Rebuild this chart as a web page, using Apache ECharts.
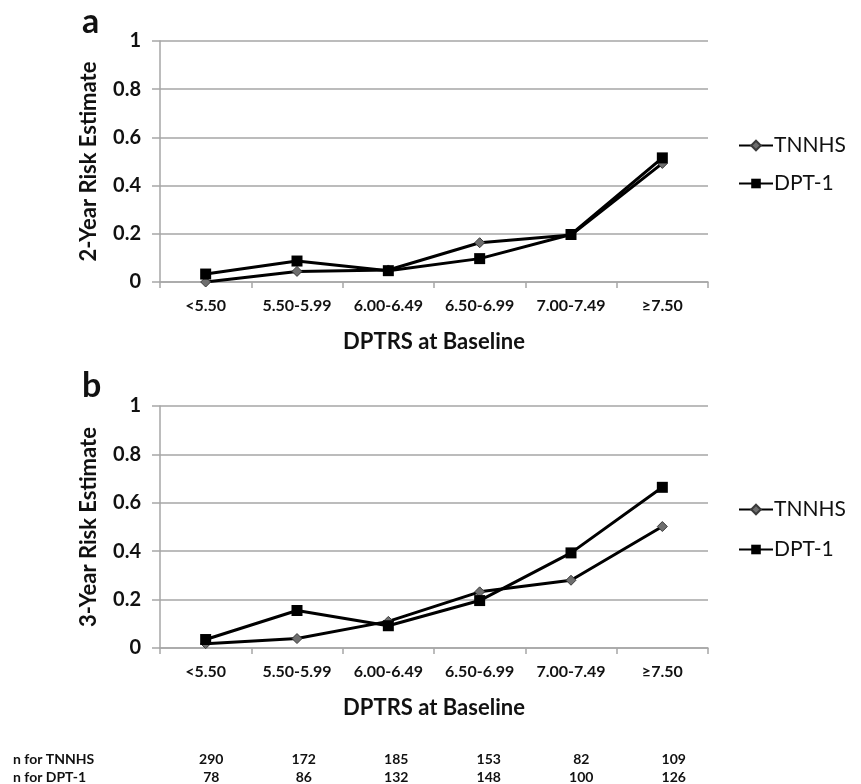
<!DOCTYPE html>
<html>
<head>
<meta charset="utf-8">
<script src="https://cdn.jsdelivr.net/npm/echarts@6/dist/echarts.min.js"></script>
<style>
  html, body { margin: 0; padding: 0; background: #fff; }
  #main { width: 861px; height: 784px; }
</style>
</head>
<body>
<div id="main"></div>
<script>
// categories of DPTRS at baseline
var categories = ['<5.50', '5.50-5.99', '6.00-6.49', '6.50-6.99', '7.00-7.49', '\u22657.50'];

// panel a: 2-year risk
var tnnhs2yr = [0.00, 0.044, 0.05, 0.163, 0.195, 0.492];
var dpt2yr   = [0.033, 0.087, 0.047, 0.097, 0.197, 0.515];

// panel b: 3-year risk
var tnnhs3yr = [0.018, 0.039, 0.11, 0.232, 0.28, 0.502];
var dpt3yr   = [0.035, 0.155, 0.092, 0.196, 0.393, 0.664];

// sample sizes
var nTNNHS = [290, 172, 185, 153, 82, 109];
var nDPT1  = [78, 86, 132, 148, 100, 126];

var FONT = 'Lato, "Open Sans", sans-serif';
var gridGray = '#a6a6a6';

var chart = echarts.init(document.getElementById('main'), null, { renderer: 'canvas' });

function catAxis(gridIndex) {
    return {
        type: 'category',
        gridIndex: gridIndex,
        data: categories,
        boundaryGap: true,
        axisLine: { lineStyle: { color: gridGray, width: 1.5 } },
        axisTick: { show: true, alignWithLabel: false, length: 6, lineStyle: { color: gridGray, width: 1.5 } },
        axisLabel: { color: '#111', fontFamily: FONT, fontWeight: 'bold', fontSize: 16, margin: 16 },
        name: 'DPTRS at Baseline',
        nameLocation: 'middle',
        nameGap: 49,
        nameTextStyle: { color: '#111', fontFamily: FONT, fontWeight: 'bold', fontSize: 22 }
    };
}

function valAxis(gridIndex, title) {
    return {
        type: 'value',
        gridIndex: gridIndex,
        min: 0,
        max: 1,
        interval: 0.2,
        axisLine: { show: true, lineStyle: { color: gridGray, width: 1.5 } },
        axisTick: { show: true, length: 8, lineStyle: { color: gridGray, width: 1.5 } },
        splitLine: { show: true, lineStyle: { color: gridGray, width: 1.5 } },
        axisLabel: { color: '#111', fontFamily: FONT, fontWeight: 'bold', fontSize: 20, margin: 19 },
        name: title,
        nameLocation: 'middle',
        nameGap: 60,
        nameTextStyle: { color: '#111', fontFamily: FONT, fontWeight: 'bold', fontSize: 22 }
    };
}

// rows of the sample-size table under panel b
function countAxis(values, offset) {
    return {
        type: 'category',
        gridIndex: 2,
        data: values,
        position: 'top',
        offset: offset,
        axisLine: { show: false },
        axisTick: { show: false },
        axisLabel: { color: '#111', fontFamily: FONT, fontWeight: 'bold', fontSize: 14, margin: 0, verticalAlign: 'middle' }
    };
}

function tnnhsSeries(xi, yi, data) {
    return {
        name: 'TNNHS', type: 'line', xAxisIndex: xi, yAxisIndex: yi, data: data,
        symbol: 'diamond', symbolSize: 10, showAllSymbol: true,
        lineStyle: { color: '#000', width: 3 },
        itemStyle: { color: '#6e6e6e', borderColor: '#3a3a3a', borderWidth: 1 },
        z: 3
    };
}

function dptSeries(xi, yi, data) {
    return {
        name: 'DPT-1', type: 'line', xAxisIndex: xi, yAxisIndex: yi, data: data,
        symbol: 'rect', symbolSize: 11, showAllSymbol: true,
        lineStyle: { color: '#000', width: 3 },
        itemStyle: { color: '#000' },
        z: 4
    };
}

function legendAt(top, gap) {
    return {
        orient: 'vertical',
        left: 733,
        top: top,
        itemWidth: 34,
        itemHeight: 12,
        itemGap: gap,
        selectedMode: false,
        textStyle: { color: '#111', fontFamily: FONT, fontSize: 21, padding: [0, 0, 0, -4] },
        data: ['TNNHS', 'DPT-1']
    };
}

chart.setOption({
    animation: false,
    backgroundColor: '#fff',
    legend: [legendAt(130, 17), legendAt(494, 19)],
    grid: [
        { left: 160, top: 41, width: 548, height: 241 },
        { left: 160, top: 406, width: 548, height: 242 },
        { left: 165, top: 740, width: 555, height: 40 }
    ],
    xAxis: [
        catAxis(0),
        catAxis(1),
        countAxis(nTNNHS, -19),
        countAxis(nDPT1, -37)
    ],
    yAxis: [
        valAxis(0, '2-Year Risk Estimate'),
        valAxis(1, '3-Year Risk Estimate'),
        { type: 'value', gridIndex: 2, show: false }
    ],
    series: [
        tnnhsSeries(0, 0, tnnhs2yr),
        dptSeries(0, 0, dpt2yr),
        tnnhsSeries(1, 1, tnnhs3yr),
        dptSeries(1, 1, dpt3yr)
    ],
    graphic: [
        { type: 'text', x: 82, y: 22, style: { text: 'a', fill: '#111', font: 'bold 34px ' + FONT, verticalAlign: 'middle' } },
        { type: 'text', x: 82, y: 386, style: { text: 'b', fill: '#111', font: 'bold 34px ' + FONT, verticalAlign: 'middle' } },
        { type: 'text', x: 13, y: 759, style: { text: 'n for TNNHS', fill: '#111', font: 'bold 14px ' + FONT, verticalAlign: 'middle' } },
        { type: 'text', x: 13, y: 777, style: { text: 'n for DPT-1', fill: '#111', font: 'bold 14px ' + FONT, verticalAlign: 'middle' } }
    ]
});
</script>
</body>
</html>
